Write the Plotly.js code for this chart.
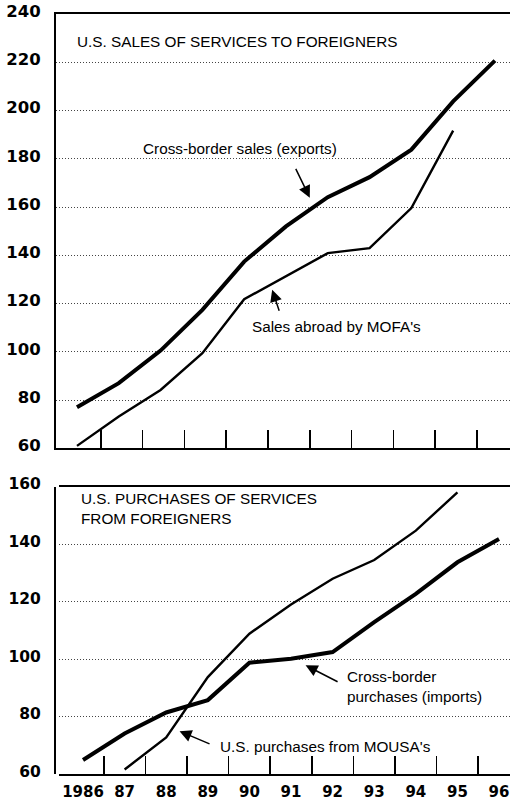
<!DOCTYPE html>
<html>
<head>
<meta charset="utf-8">
<script src="https://cdn.plot.ly/plotly-3.0.1.min.js"></script>
<style>
  html, body { margin: 0; padding: 0; background: #fff; }
  #chart { width: 510px; height: 805px; }
</style>
</head>
<body>
<div id="chart"></div>
<script>
// years on the x axis
const years = [1986, 1987, 1988, 1989, 1990, 1991, 1992, 1993, 1994, 1995, 1996];
const yearLabels = ["1986", "87", "88", "89", "90", "91", "92", "93", "94", "95", "96"];

// y tick values of each panel
const salesTicks = [60, 80, 100, 120, 140, 160, 180, 200, 220, 240];
const purchaseTicks = [60, 80, 100, 120, 140, 160];

// top panel: sales of services to foreigners
const exportsSales = [77, 87, 100.5, 117.4, 137.4, 152, 164.1, 172.4, 183.8, 203.8, 220.7];
const mofaYears = [1986, 1987, 1988, 1989, 1990, 1991, 1992, 1993, 1994, 1995];
const mofaSales = [61, 73.2, 84.2, 99.4, 121.8, 131.2, 140.9, 143, 159.6, 191.7];

// bottom panel: purchases of services from foreigners
const importsPurchases = [65, 74.2, 81.5, 85.8, 98.8, 100.2, 102.5, 112.9, 122.7, 133.7, 141.8];
const mousaYears = [1987, 1988, 1989, 1990, 1991, 1992, 1993, 1994, 1995];
const mousaPurchases = [61.7, 72.8, 93.8, 108.9, 119, 128, 134.5, 144.7, 158];

const FONT = "'Liberation Sans', Arial, Helvetica, sans-serif";
const TICKFONT = "'DejaVu Sans', 'Liberation Sans', Arial, sans-serif";
const bold = arr => arr.map(v => "<b>" + v + "</b>");

const traces = [
  { x: years, y: exportsSales, xaxis: "x", yaxis: "y", mode: "lines",
    line: { color: "#000", width: 4 }, hoverinfo: "skip" },
  { x: mofaYears, y: mofaSales, xaxis: "x", yaxis: "y", mode: "lines",
    line: { color: "#000", width: 2.4 }, hoverinfo: "skip" },
  { x: years, y: importsPurchases, xaxis: "x2", yaxis: "y2", mode: "lines",
    line: { color: "#000", width: 4 }, hoverinfo: "skip" },
  { x: mousaYears, y: mousaPurchases, xaxis: "x2", yaxis: "y2", mode: "lines",
    line: { color: "#000", width: 2.4 }, hoverinfo: "skip" },
];

// y axis shared style
function yStyle(domain, range, ticks, size) {
  return {
    domain: domain,
    range: range,
    tickvals: ticks,
    ticktext: bold(ticks),
    showline: true,
    linecolor: "#000",
    linewidth: 2,
    showgrid: true,
    gridcolor: "#444",
    griddash: "1px,2px",
    gridwidth: 1,
    zeroline: false,
    ticks: "",
    ticklabelstandoff: 10,
    ticklabelshift: -3,
    tickfont: { family: TICKFONT, size: size, color: "#000", weight: 700 },
  };
}

// x axis: labels on the years, tick marks (minor) between years
function xStyle(domain, anchor, range, offset, labels) {
  return {
    domain: domain,
    anchor: anchor,
    range: range,
    tickvals: years,
    ticktext: bold(yearLabels),
    showticklabels: labels,
    ticks: "",
    ticklabelstandoff: 3,
    ticklabeloverflow: "allow",
    tickfont: { family: TICKFONT, size: 15, color: "#000", weight: 700 },
    minor: {
      tickvals: years.slice(0, 10).map(v => v + offset),
      ticks: "inside",
      ticklen: 18,
      tickwidth: 1.5,
      tickcolor: "#000",
      showgrid: false,
    },
    showline: true,
    mirror: true,
    linecolor: "#000",
    linewidth: 2,
    showgrid: false,
    zeroline: false,
  };
}

const textFont = { family: FONT, size: 15.3, color: "#000" };
const arrowStyle = { showarrow: true, arrowhead: 2, arrowsize: 1.6, arrowwidth: 1.5,
  arrowcolor: "#000", standoff: 0, text: " " };

const layout = {
  width: 510,
  height: 805,
  margin: { l: 0, r: 0, t: 0, b: 0 },
  paper_bgcolor: "#fff",
  plot_bgcolor: "#fff",
  showlegend: false,
  xaxis: xStyle([0.1098, 1], "y", [1985.498, 1996.36], 0.57, false),
  yaxis: yStyle([0.4431, 0.9825], [60, 240], salesTicks, 16.5),
  xaxis2: xStyle([0.1163, 1], "y2", [1985.43, 1996.264], 0.5, true),
  yaxis2: yStyle([0.0381, 0.3955], [60, 160], purchaseTicks, 15.5),
  annotations: [
    { xref: "x", yref: "y", x: 1985.95, y: 228.5, xanchor: "left", yanchor: "middle",
      text: "U.S. SALES OF SERVICES TO FOREIGNERS", showarrow: false, font: textFont },
    { xref: "x", yref: "y", x: 1989.9, y: 184.1, xanchor: "center", yanchor: "middle",
      text: "Cross-border sales (exports)", showarrow: false, font: textFont },
    Object.assign({ xref: "x", yref: "y", x: 1991.57, y: 163.9, ax: -17, ay: -35 }, arrowStyle),
    { xref: "x", yref: "y", x: 1992.22, y: 110.3, xanchor: "center", yanchor: "middle",
      text: "Sales abroad by MOFA's", showarrow: false, font: textFont },
    Object.assign({ xref: "x", yref: "y", x: 1990.67, y: 125.7, ax: 10, ay: 30 }, arrowStyle),
    { xref: "x2", yref: "y2", x: 1985.9, y: 152.4, xanchor: "left", yanchor: "middle",
      text: "U.S. PURCHASES OF SERVICES<br>FROM FOREIGNERS", showarrow: false, align: "left",
      font: textFont },
    { xref: "x2", yref: "y2", x: 1992.3, y: 90.7, xanchor: "left", yanchor: "middle",
      text: "Cross-border<br>purchases (imports)", showarrow: false, align: "left",
      font: textFont },
    Object.assign({ xref: "x2", yref: "y2", x: 1991.35, y: 97.9, ax: 35, ay: 18 }, arrowStyle),
    { xref: "x2", yref: "y2", x: 1991.83, y: 69.5, xanchor: "center", yanchor: "middle",
      text: "U.S. purchases from MOUSA's", showarrow: false, font: textFont },
    Object.assign({ xref: "x2", yref: "y2", x: 1988.32, y: 75, ax: 33, ay: 14 }, arrowStyle),
  ],
};

Plotly.newPlot("chart", traces, layout, { staticPlot: true });
</script>
</body>
</html>
